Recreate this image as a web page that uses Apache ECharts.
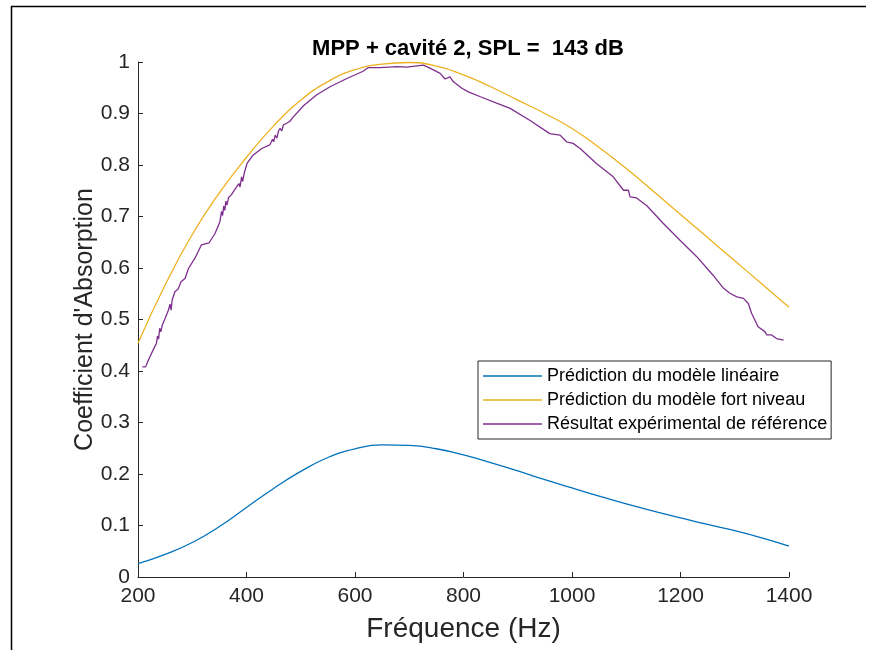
<!DOCTYPE html>
<html>

<head>
    <meta charset="utf-8">
    <title>MPP + cavité 2</title>
    <script src="https://cdn.jsdelivr.net/npm/echarts@6/dist/echarts.min.js"></script>
    <style>
        html, body { margin: 0; padding: 0; background: #fff; }
        #main { width: 872px; height: 650px; }
    </style>
</head>

<body>
    <div id="main"></div>
    <script type="text/javascript">
        // modèles : grille de fréquence commune
        var freqModel = [200, 250, 300, 350, 400, 450, 500, 550, 600, 650, 700, 750, 800,
            850, 900, 950, 1000, 1050, 1100, 1150, 1200, 1250, 1300, 1350, 1400];
        var alphaLin = [0.026, 0.044, 0.067, 0.098, 0.135, 0.172, 0.205, 0.232, 0.249, 0.2565, 0.2555, 0.249, 0.237,
            0.222, 0.206, 0.189, 0.173, 0.157, 0.142, 0.128, 0.115, 0.102, 0.090, 0.076, 0.060];
        var alphaFort = [0.454, 0.567, 0.665, 0.746, 0.815, 0.876, 0.926, 0.962, 0.985, 0.996, 0.999, 0.992, 0.975,
            0.952, 0.926, 0.900, 0.871, 0.834, 0.793, 0.749, 0.704, 0.659, 0.614, 0.569, 0.524];

        // mesure
        var freqExp = [208, 214, 219, 228, 234, 236, 238, 240, 242, 245, 250, 256, 259, 261, 263, 268, 274, 279, 287, 293,
            305, 317, 331, 342, 351, 354, 356, 358, 360, 362, 364, 367, 372, 382, 386, 388, 391, 393, 396, 401,
            412, 428, 443, 448, 450, 453, 456, 459, 462, 465, 468, 474, 480, 486, 505, 529, 554, 585, 615, 624,
            646, 677, 695, 726, 738, 757, 766, 775, 781, 797, 809, 830, 861, 886, 922, 959, 978, 990, 1002, 1015,
            1045, 1076, 1095, 1104, 1107, 1119, 1138, 1168, 1199, 1230, 1260, 1279, 1291, 1304, 1316, 1325, 1331, 1343, 1356, 1359,
            1368, 1377, 1390];
        var alphaExp = [0.408, 0.408, 0.421, 0.441, 0.454, 0.468, 0.462, 0.483, 0.476, 0.490, 0.502, 0.518, 0.530, 0.518, 0.538, 0.554, 0.559, 0.573, 0.580, 0.599,
            0.619, 0.645, 0.649, 0.667, 0.690, 0.710, 0.702, 0.720, 0.712, 0.730, 0.722, 0.737, 0.742, 0.758, 0.764, 0.757, 0.777, 0.768, 0.785, 0.803,
            0.819, 0.832, 0.839, 0.850, 0.845, 0.858, 0.852, 0.866, 0.871, 0.866, 0.878, 0.881, 0.885, 0.893, 0.915, 0.936, 0.952, 0.968, 0.982, 0.989,
            0.989, 0.991, 0.990, 0.994, 0.988, 0.978, 0.967, 0.971, 0.962, 0.949, 0.942, 0.933, 0.920, 0.910, 0.887, 0.861, 0.858, 0.845, 0.842, 0.832,
            0.803, 0.777, 0.751, 0.751, 0.738, 0.736, 0.721, 0.687, 0.654, 0.622, 0.586, 0.561, 0.551, 0.544, 0.541, 0.531, 0.512, 0.486, 0.476, 0.470,
            0.470, 0.463, 0.460];

        var names = ['Prédiction du modèle linéaire', 'Prédiction du modèle fort niveau', 'Résultat expérimental de référence'];

        function pairs(xs, ys) {
            return xs.map(function(x, i) { return [x, ys[i]]; });
        }

        var axisColor = '#262626';
        var font = '"Liberation Sans", Arial, sans-serif';

        var chart = echarts.init(document.getElementById('main'), null, { renderer: 'canvas' });
        var option = {
            backgroundColor: '#ffffff',
            animation: false,
            textStyle: { fontFamily: font },
            title: {
                text: 'MPP + cavité 2, SPL =  143 dB',
                left: 463,
                textAlign: 'center',
                top: 33,
                textStyle: { fontSize: 22, fontWeight: 'bold', color: '#000', fontFamily: font }
            },
            grid: { left: 138, right: 83, top: 62, bottom: 73 },
            legend: {
                data: names,
                orient: 'vertical',
                left: 478,
                top: 361,
                padding: [5, 4, 5, 5],
                itemGap: 4,
                itemWidth: 59,
                itemHeight: 1.5,
                icon: 'rect',
                borderColor: axisColor,
                borderWidth: 1,
                borderRadius: 0,
                backgroundColor: '#fff',
                textStyle: { fontSize: 18, color: '#000', fontFamily: font, lineHeight: 20 }
            },
            xAxis: {
                type: 'value',
                min: 200,
                max: 1400,
                interval: 200,
                name: 'Fréquence (Hz)',
                nameLocation: 'middle',
                nameGap: 38,
                nameMoveOverlap: false,
                nameTextStyle: { fontSize: 28, color: axisColor },
                axisLine: { lineStyle: { color: axisColor, width: 1 } },
                axisTick: { inside: true, length: 5, lineStyle: { color: axisColor } },
                axisLabel: {
                    fontSize: 21, color: axisColor, margin: 9,
                    formatter: function(v) { return String(v); }
                },
                splitLine: { show: false }
            },
            yAxis: {
                type: 'value',
                min: 0,
                max: 1,
                interval: 0.1,
                name: "Coefficient d'Absorption",
                nameLocation: 'middle',
                nameGap: 40,
                nameMoveOverlap: false,
                nameTextStyle: { fontSize: 25, color: axisColor },
                axisLine: { show: true, lineStyle: { color: axisColor, width: 1 } },
                axisTick: { show: true, inside: true, length: 5, lineStyle: { color: axisColor } },
                axisLabel: {
                    fontSize: 21, color: axisColor, margin: 8,
                    formatter: function(v) { return String(Math.round(v * 10) / 10); }
                },
                splitLine: { show: false }
            },
            series: [{
                name: names[0],
                type: 'line',
                data: pairs(freqModel, alphaLin),
                smooth: 0.5,
                symbol: 'none',
                lineStyle: { color: '#0072BD', width: 1.3 },
                itemStyle: { color: '#0072BD' }
            }, {
                name: names[1],
                type: 'line',
                data: pairs(freqModel, alphaFort),
                smooth: 0.5,
                symbol: 'none',
                lineStyle: { color: '#EDB120', width: 1.3 },
                itemStyle: { color: '#EDB120' }
            }, {
                name: names[2],
                type: 'line',
                data: pairs(freqExp, alphaExp),
                symbol: 'none',
                lineStyle: { color: '#7E2F8E', width: 1.3 },
                itemStyle: { color: '#7E2F8E' }
            }],
            graphic: [{
                type: 'line',
                shape: { x1: 11.5, y1: 6, x2: 11.5, y2: 650 },
                style: { stroke: '#000', lineWidth: 1.5 }
            }, {
                type: 'line',
                shape: { x1: 11, y1: 6.5, x2: 866, y2: 6.5 },
                style: { stroke: '#000', lineWidth: 1.5 }
            }]
        };
        chart.setOption(option);
    </script>
</body>

</html>
